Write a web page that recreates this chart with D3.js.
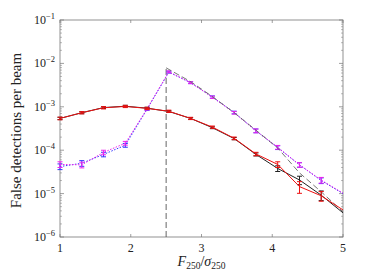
<!DOCTYPE html>
<html>
<head>
<meta charset="utf-8">
<script src="https://cdn.jsdelivr.net/npm/d3@7"></script>
<style>
  body { margin: 0; background: #fff; }
  svg { display: block; }
  text { font-family: "Liberation Serif", "DejaVu Serif", serif; fill: #222; }
</style>
</head>
<body>
<div id="chart"></div>
<script>
// bin centres along F250 / sigma250
const binX = [1, 1.308, 1.615, 1.923, 2.231, 2.538, 2.846, 3.154, 3.462, 3.769, 4.077, 4.385, 4.692, 5];

// false detections per beam
const redVals = [5.4e-4, 7.3e-4, 9.5e-4, 1.02e-3, 9.2e-4, 7.9e-4, 5.4e-4, 3.4e-4, 1.88e-4, 8.2e-5, 4.7e-5, 1.45e-5, 8.9e-6, 4.2e-6];
const redErr  = [0.07, 0.06, 0.06, 0.06, 0.06, 0.06, 0.06, 0.06, 0.07, 0.09, 0.15, 0.3, 0.25, 0];
const blackVals = [5.4e-4, 7.3e-4, 9.6e-4, 1.03e-3, 9.3e-4, 7.8e-4, 5.4e-4, 3.3e-4, 1.85e-4, 8.0e-5, 3.8e-5, 2.06e-5, 9.2e-6, 3.6e-6];
const blackErr  = [0.06, 0.05, 0.05, 0.05, 0.05, 0.05, 0.05, 0.05, 0.06, 0.08, 0.15, 0.22, 0.25, 0];
const magentaVals = [4.7e-5, 4.6e-5, 8.9e-5, 1.45e-4, 9.0e-4, 6.4e-3, 3.6e-3, 1.66e-3, 7.3e-4, 2.8e-4, 1.17e-4, 4.6e-5, 2.05e-5, 1.02e-5];
const magentaErr  = [0.15, 0.15, 0.12, 0.1, 0.06, 0.05, 0.05, 0.06, 0.07, 0.1, 0.1, 0.12, 0.15, 0];
const blueVals = [4.2e-5, 5.0e-5, 8.0e-5, 1.3e-4, 8.8e-4, 6.3e-3, 3.6e-3, 1.68e-3, 7.4e-4, 2.8e-4, 1.15e-4, 4.6e-5, 2.0e-5, 1.0e-5];
const blueErr  = [0.15, 0.15, 0.12, 0.1, 0.06, 0.05, 0.05, 0.06, 0.07, 0.1, 0.1, 0.12, 0.15, 0];

// dashed model: zero below the 2.5 sigma cut, then falling
const modelX = [2.5, 2.5, 2.846, 3.154, 3.462, 3.769, 4.077, 4.385, 4.692, 5];
const modelVals = [1e-6, 7.9e-3, 3.8e-3, 1.72e-3, 7.3e-4, 2.9e-4, 1.12e-4, 3.0e-5, 1.1e-5, 3.8e-6];

const xTicks = [1, 2, 3, 4, 5];
const yTicks = [1e-6, 1e-5, 1e-4, 1e-3, 1e-2, 1e-1];

const W = 390, H = 276;
const margin = { top: 20, right: 47, bottom: 39, left: 60 };

const svg = d3.select("#chart").append("svg")
  .attr("width", W).attr("height", H);

const x = d3.scaleLinear().domain([1, 5]).range([margin.left, W - margin.right]);
const y = d3.scaleLog().domain([1e-6, 1e-1]).range([H - margin.bottom, margin.top]);

const axisColor = "#777";

// minor ticks for log axis
let minor = [];
for (let e = -6; e < -1; e++) {
  for (let m = 2; m <= 9; m++) minor.push(m * Math.pow(10, e));
}

const g = svg.append("g");

// box
g.append("rect")
  .attr("x", x(1)).attr("y", y(1e-1))
  .attr("width", x(5) - x(1)).attr("height", y(1e-6) - y(1e-1))
  .attr("fill", "none").attr("stroke", axisColor).attr("stroke-width", 0.8);

// y ticks, both sides, pointing inwards
[[x(1), 1], [x(5), -1]].forEach(([px, dir]) => {
  g.selectAll(null).data(yTicks).join("line")
    .attr("x1", px).attr("x2", px + dir * 4)
    .attr("y1", d => y(d)).attr("y2", d => y(d))
    .attr("stroke", axisColor).attr("stroke-width", 0.7);
  g.selectAll(null).data(minor).join("line")
    .attr("x1", px).attr("x2", px + dir * 2)
    .attr("y1", d => y(d)).attr("y2", d => y(d))
    .attr("stroke", axisColor).attr("stroke-width", 0.5);
});

// x ticks top and bottom
[[y(1e-6), -1], [y(1e-1), 1]].forEach(([py, dir]) => {
  g.selectAll(null).data(xTicks).join("line")
    .attr("x1", d => x(d)).attr("x2", d => x(d))
    .attr("y1", py).attr("y2", py + dir * 3)
    .attr("stroke", axisColor).attr("stroke-width", 0.7);
});

// tick labels
g.selectAll(null).data(xTicks).join("text")
  .attr("x", d => x(d)).attr("y", y(1e-6) + 15)
  .attr("text-anchor", "middle").attr("font-size", 12)
  .text(d => d);

const yl = g.selectAll(null).data(yTicks).join("text")
  .attr("x", x(1) - 5).attr("y", d => y(d) + 4)
  .attr("text-anchor", "end").attr("font-size", 12);
yl.append("tspan").text("10");
yl.append("tspan").attr("dy", -5).attr("font-size", 8.5)
  .text(d => "\u2212" + Math.round(-Math.log10(d)));

// axis titles
svg.append("text")
  .attr("transform", `translate(21,${(y(1e-6) + y(1e-1)) / 2 + 2}) rotate(-90)`)
  .attr("text-anchor", "middle").attr("font-size", 15)
  .text("False detections per beam");

const xt = svg.append("text")
  .attr("x", (x(1) + x(5)) / 2).attr("y", 266)
  .attr("text-anchor", "middle").attr("font-size", 14);
xt.append("tspan").attr("font-style", "italic").text("F");
xt.append("tspan").attr("font-size", 9.5).attr("dy", 3).text("250");
xt.append("tspan").attr("dy", -3).text("/");
xt.append("tspan").attr("font-style", "italic").text("\u03c3");
xt.append("tspan").attr("font-size", 9.5).attr("dy", 3).text("250");

// vertical cut line
g.append("line")
  .attr("x1", x(2.5)).attr("x2", x(2.5))
  .attr("y1", y(1e-6)).attr("y2", y(modelVals[1]))
  .attr("stroke", "#555").attr("stroke-width", 0.9)
  .attr("stroke-dasharray", "6,3");

const line = d3.line().x(d => x(d[0])).y(d => y(d[1]));

function drawSeries(vals, errs, color, dash, width) {
  const pts = binX.map((b, i) => [b, vals[i]]);
  g.append("path").datum(pts)
    .attr("d", line)
    .attr("fill", "none").attr("stroke", color)
    .attr("stroke-width", width)
    .attr("stroke-dasharray", dash);
  const eb = g.append("g").attr("stroke", color).attr("stroke-width", 1);
  pts.forEach((p, i) => {
    if (!errs[i]) return;
    const lo = y(p[1] * (1 - errs[i])), hi = y(p[1] * (1 + errs[i]));
    const cx = x(p[0]);
    eb.append("line").attr("x1", cx).attr("x2", cx).attr("y1", lo).attr("y2", hi);
    eb.append("line").attr("x1", cx - 2.5).attr("x2", cx + 2.5).attr("y1", lo).attr("y2", lo);
    eb.append("line").attr("x1", cx - 2.5).attr("x2", cx + 2.5).attr("y1", hi).attr("y2", hi);
  });
}

drawSeries(blueVals, blueErr, "#3333ff", "1.5,1.5", 1);
drawSeries(magentaVals, magentaErr, "#ee22ee", "1.5,1.5", 1);

// model (dashed grey) after the cut
g.append("path").datum(modelX.slice(1).map((m, i) => [m, modelVals[i + 1]]))
  .attr("d", line)
  .attr("fill", "none").attr("stroke", "#666")
  .attr("stroke-width", 0.9).attr("stroke-dasharray", "6,3");

drawSeries(blackVals, blackErr, "#222", null, 1);
drawSeries(redVals, redErr, "#ee1111", null, 1);
</script>
</body>
</html>
